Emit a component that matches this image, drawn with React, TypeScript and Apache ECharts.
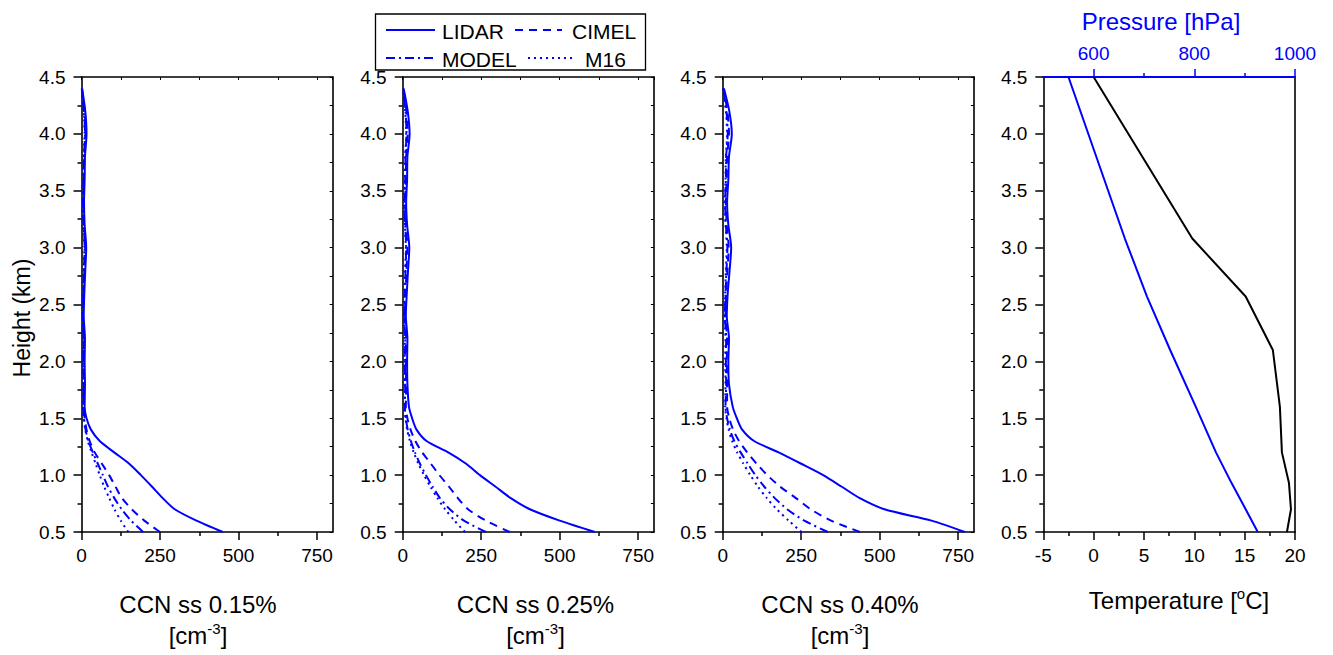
import React, { useEffect, useRef } from "react";
import * as echarts from "echarts";

const FONT = "'Liberation Sans', Arial, Helvetica, sans-serif";
const BLUE = "#0000ff";

// Altitude levels (km) of the CCN profiles
const HEIGHTS = [0.5, 0.6, 0.7, 0.8, 0.9, 1.0, 1.1, 1.2, 1.3, 1.4, 1.5, 1.6, 1.8, 2.0, 2.2, 2.4, 2.6, 2.8, 3.0, 3.2, 3.4, 3.6, 3.8, 4.0, 4.2, 4.4];

// CCN concentration [cm-3], supersaturation 0.15 %
const LIDAR_015 = [450, 366, 297, 258, 224, 189, 152, 104, 58, 30, 16, 10, 11, 10, 11, 7, 9, 12, 15, 10, 8, 10, 11, 16, 12, 2];
const CIMEL_015 = [250, 200, 160, 128, 108, 88, 65, 42, 26, 16, 10, 7, 8, 7, 8, 5, 7, 9, 12, 8, 6, 8, 9, 13, 10, 1];
const MODEL_015 = [196, 158, 128, 104, 84, 68, 52, 36, 22, 13, 8, 6, 7, 6, 7, 4, 6, 8, 10, 7, 5, 7, 8, 11, 8, 1];
const M16_015 = [149, 125, 105, 88, 72, 58, 45, 32, 20, 12, 7, 5, 6, 5, 6, 4, 5, 7, 9, 6, 5, 6, 7, 10, 7, 1];

// supersaturation 0.25 %
const LIDAR_025 = [612, 500, 405, 343, 295, 246, 202, 145, 76, 44, 30, 20, 15, 14, 15, 10, 13, 17, 21, 14, 11, 14, 15, 22, 16, 3];
const CIMEL_025 = [341, 265, 208, 175, 147, 117, 90, 62, 40, 25, 15, 10, 11, 10, 11, 7, 9, 12, 15, 10, 8, 10, 11, 16, 12, 2];
const MODEL_025 = [265, 195, 150, 118, 95, 74, 55, 39, 26, 16, 10, 7, 8, 7, 8, 5, 7, 9, 11, 8, 6, 8, 9, 12, 9, 1];
const M16_025 = [198, 165, 135, 110, 88, 68, 50, 35, 23, 14, 9, 6, 7, 6, 7, 5, 6, 8, 10, 7, 5, 7, 8, 11, 8, 1];

// supersaturation 0.40 %
const LIDAR_040 = [771, 665, 515, 435, 378, 320, 250, 178, 100, 62, 45, 32, 20, 18, 20, 13, 16, 22, 27, 18, 14, 18, 20, 29, 21, 4];
const CIMEL_040 = [437, 345, 280, 232, 182, 142, 108, 78, 52, 33, 21, 14, 14, 13, 14, 9, 11, 15, 19, 13, 10, 13, 14, 20, 15, 2];
const MODEL_040 = [335, 260, 205, 165, 132, 104, 80, 57, 37, 23, 14, 9, 11, 10, 11, 7, 9, 12, 15, 10, 8, 10, 11, 16, 12, 2];
const M16_040 = [251, 210, 172, 140, 112, 88, 66, 46, 30, 19, 12, 8, 9, 8, 9, 6, 8, 10, 13, 9, 7, 9, 10, 14, 10, 1];

// Sounding: temperature [°C] and pressure [hPa] at these heights (km)
const SOUNDING_HEIGHTS = [4.5, 3.08, 2.57, 2.1, 1.6, 1.2, 0.93, 0.7, 0.5];
const TEMPERATURE = [0, 9.8, 15.1, 17.8, 18.5, 18.7, 19.4, 19.6, 19.2];
const PRESSURE = [550, 662, 706, 752, 803, 843, 874, 902, 926];

const PANEL_TITLES = ["CCN ss 0.15%", "CCN ss 0.25%", "CCN ss 0.40%"];
const CCN_TICKS = [0, 250, 500, 750];
const CCN_MINOR_TICKS = [125, 375, 625];
const PRESSURE_TICKS = [600, 800, 1000];
const PRESSURE_MINOR_TICKS = [700, 900];

const SERIES_NAMES = ["LIDAR", "CIMEL", "MODEL", "M16"];
const PANEL_DATA = [
  [LIDAR_015, CIMEL_015, MODEL_015, M16_015],
  [LIDAR_025, CIMEL_025, MODEL_025, M16_025],
  [LIDAR_040, CIMEL_040, MODEL_040, M16_040],
];

const DASHES: any[] = ["solid", [8, 6], [9, 4, 2, 4], [2, 4]];

const GRID_LEFT = [81.5, 402.7, 722.7, 1043.3];
const GRID_WIDTH = [251.2, 251.2, 251.2, 251.7];
const GRID_TOP = 77;
const GRID_HEIGHT = 455;

function buildOption() {
  const grids = GRID_LEFT.map((left, i) => ({
    left,
    top: GRID_TOP,
    width: GRID_WIDTH[i],
    height: GRID_HEIGHT,
    containLabel: false,
  }));

  const blackLine = { show: true, onZero: false, lineStyle: { color: "#000", width: 1.6 } };
  const tickLabel = { color: "#000", fontSize: 19, fontFamily: FONT };

  const xAxes: any[] = [];
  const yAxes: any[] = [];
  const series: any[] = [];

  const addY = (gridIndex: number, withRightTicks: boolean) => {
    const idx = yAxes.length;
    yAxes.push({
      type: "value",
      gridIndex,
      position: "left",
      min: 0.5,
      max: 4.5,
      interval: 0.5,
      axisLine: blackLine,
      axisTick: { show: true, length: 8, lineStyle: { color: "#000", width: 1.5 } },
      minorTick: { show: true, splitNumber: 2, length: 4, lineStyle: { color: "#000", width: 1.5 } },
      axisLabel: { ...tickLabel, margin: 16, formatter: (v: number) => v.toFixed(1) },
      splitLine: { show: false },
    });
    yAxes.push({
      type: "value",
      gridIndex,
      position: "right",
      min: 0.5,
      max: 4.5,
      interval: 0.25,
      axisLine: blackLine,
      axisTick: { show: withRightTicks, inside: true, length: 3, lineStyle: { color: "#000", width: 1 } },
      axisLabel: { show: false },
      splitLine: { show: false },
    });
    return idx;
  };

  // CCN panels
  PANEL_DATA.forEach((panel, p) => {
    const xMain = xAxes.length;
    xAxes.push({
      type: "value",
      gridIndex: p,
      position: "bottom",
      min: 0,
      max: 800,
      axisLine: blackLine,
      axisTick: { show: true, length: 8, customValues: CCN_TICKS, lineStyle: { color: "#000", width: 1.5 } },
      axisLabel: { ...tickLabel, margin: 14, customValues: CCN_TICKS, formatter: (v: number) => String(v) },
      splitLine: { show: false },
    });
    xAxes.push({
      type: "value",
      gridIndex: p,
      position: "bottom",
      min: 0,
      max: 800,
      axisLine: { show: false },
      axisTick: { show: true, length: 4, customValues: CCN_MINOR_TICKS, lineStyle: { color: "#000", width: 1.5 } },
      axisLabel: { show: false },
      splitLine: { show: false },
    });
    xAxes.push({
      type: "value",
      gridIndex: p,
      position: "top",
      min: 0,
      max: 800,
      interval: 125,
      axisLine: blackLine,
      axisTick: { show: true, inside: true, length: 3, lineStyle: { color: "#000", width: 1 } },
      axisLabel: { show: false },
      splitLine: { show: false },
    });
    const yMain = addY(p, true);
    panel.forEach((vals, s) => {
      series.push({
        type: "line",
        name: SERIES_NAMES[s],
        xAxisIndex: xMain,
        yAxisIndex: yMain,
        showSymbol: false,
        smooth: 0.25,
        clip: true,
        lineStyle: { color: BLUE, width: 2, type: DASHES[s] },
        data: HEIGHTS.map((h, i) => [vals[i], h]),
      });
    });
  });

  // Sounding panel
  const xTemp = xAxes.length;
  xAxes.push({
    type: "value",
    gridIndex: 3,
    position: "bottom",
    min: -5,
    max: 20,
    interval: 5,
    axisLine: blackLine,
    axisTick: { show: true, length: 8, lineStyle: { color: "#000", width: 1.5 } },
    minorTick: { show: true, splitNumber: 2, length: 4, lineStyle: { color: "#000", width: 1.5 } },
    axisLabel: { ...tickLabel, margin: 14 },
    splitLine: { show: false },
  });
  const xPress = xAxes.length;
  xAxes.push({
    type: "value",
    gridIndex: 3,
    position: "top",
    min: 500,
    max: 1000,
    axisLine: { show: true, onZero: false, lineStyle: { color: BLUE, width: 2 } },
    axisTick: { show: true, length: 8, customValues: PRESSURE_TICKS, lineStyle: { color: BLUE, width: 1.5 } },
    axisLabel: { ...tickLabel, color: BLUE, margin: 14, customValues: PRESSURE_TICKS, formatter: (v: number) => String(v) },
    splitLine: { show: false },
  });
  xAxes.push({
    type: "value",
    gridIndex: 3,
    position: "top",
    min: 500,
    max: 1000,
    axisLine: { show: false },
    axisTick: { show: true, length: 4, customValues: PRESSURE_MINOR_TICKS, lineStyle: { color: BLUE, width: 1.5 } },
    axisLabel: { show: false },
    splitLine: { show: false },
  });
  const ySound = addY(3, false);
  series.push({
    type: "line",
    name: "Temperature",
    xAxisIndex: xTemp,
    yAxisIndex: ySound,
    showSymbol: false,
    lineStyle: { color: "#000", width: 2 },
    data: SOUNDING_HEIGHTS.map((h, i) => [TEMPERATURE[i], h]),
  });
  series.push({
    type: "line",
    name: "Pressure",
    xAxisIndex: xPress,
    yAxisIndex: ySound,
    showSymbol: false,
    lineStyle: { color: BLUE, width: 2 },
    data: SOUNDING_HEIGHTS.map((h, i) => [PRESSURE[i], h]),
  });

  // Texts and the legend box
  const text = (x: number, y: number, t: string, size: number, extra: any = {}) => ({
    type: "text",
    x,
    y,
    style: { text: t, fontSize: size, fontFamily: FONT, fill: extra.fill || "#000", align: extra.align || "center", verticalAlign: "middle" },
  });
  const unitRich = {
    a: { fontSize: 24, fontFamily: FONT, fill: "#000", lineHeight: 28 },
    s: { fontSize: 15, fontFamily: FONT, fill: "#000", verticalAlign: "top", lineHeight: 15 },
  };
  const titleCenters = [198, 535.5, 840];

  const graphic: any[] = [];
  PANEL_TITLES.forEach((t, i) => {
    graphic.push(text(titleCenters[i], 604, t, 24));
    graphic.push({
      type: "text",
      x: titleCenters[i],
      y: 635,
      style: { text: "{a|[cm}{s|-3}{a|]}", rich: unitRich, align: "center", verticalAlign: "middle" },
    });
  });
  graphic.push({
    type: "text",
    x: 1179,
    y: 600,
    style: { text: "{a|Temperature [}{s|o}{a|C]}", rich: unitRich, align: "center", verticalAlign: "middle" },
  });
  graphic.push(text(1161, 21, "Pressure [hPa]", 24, { fill: BLUE }));
  graphic.push({
    type: "text",
    x: 22,
    y: 318,
    rotation: Math.PI / 2,
    style: { text: "Height (km)", fontSize: 23, fontFamily: FONT, fill: "#000", align: "center", verticalAlign: "middle" },
  });

  // legend
  graphic.push({
    type: "rect",
    shape: { x: 375.5, y: 14, width: 270, height: 56 },
    style: { fill: "#fff", stroke: "#000", lineWidth: 1.3 },
  });
  const legendItems = [
    { x1: 386, x2: 435, y: 30, tx: 442, dash: null },
    { x1: 515, x2: 562, y: 30, tx: 572, dash: [8, 6] },
    { x1: 386, x2: 435, y: 58, tx: 442, dash: [9, 4, 2, 4] },
    { x1: 528, x2: 573, y: 58, tx: 585, dash: [2, 4] },
  ];
  legendItems.forEach((it, i) => {
    graphic.push({
      type: "line",
      shape: { x1: it.x1, y1: it.y, x2: it.x2, y2: it.y },
      style: { stroke: BLUE, lineWidth: 2, lineDash: it.dash || undefined },
    });
    graphic.push(text(it.tx, it.y + 1, SERIES_NAMES[i], 21, { align: "left" }));
  });

  return {
    animation: false,
    backgroundColor: "#fff",
    grid: grids,
    xAxis: xAxes,
    yAxis: yAxes,
    series,
    graphic,
  };
}

export default function App() {
  const ref = useRef<HTMLDivElement>(null);
  useEffect(() => {
    if (!ref.current) return;
    const chart = echarts.init(ref.current, undefined, { renderer: "svg" });
    chart.setOption(buildOption() as any);
    return () => chart.dispose();
  }, []);
  return <div ref={ref} style={{ position: "fixed", left: 0, top: 0, width: 1333, height: 655, background: "#fff" }} />;
}
